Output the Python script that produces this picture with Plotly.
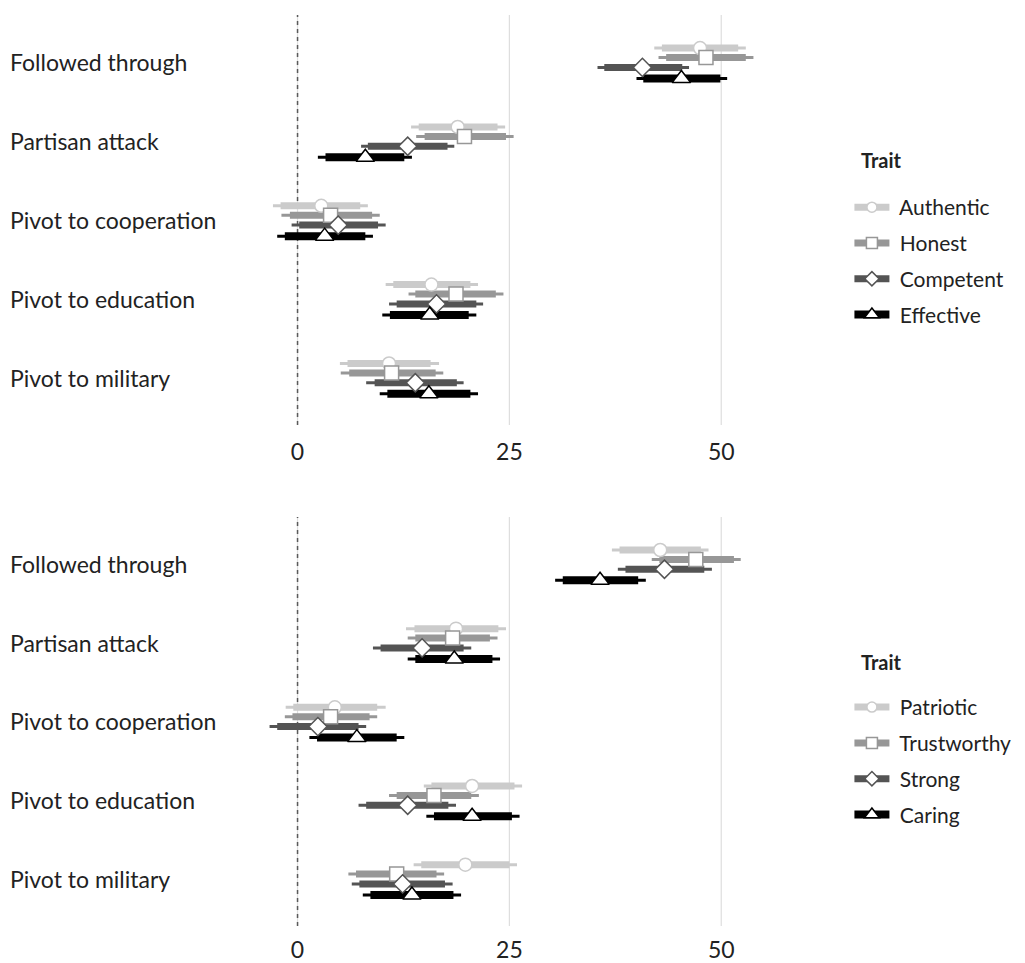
import plotly.graph_objects as go

# ---------------- data ----------------
categories = ["Followed through", "Partisan attack", "Pivot to cooperation",
              "Pivot to education", "Pivot to military"]

top_traits = ["Authentic", "Honest", "Competent", "Effective"]
bottom_traits = ["Patriotic", "Trustworthy", "Strong", "Caring"]

# point estimates per trait (order of categories)
authentic_est = [47.5, 18.9, 2.8, 15.8, 10.8]
honest_est = [48.2, 19.7, 3.9, 18.7, 11.1]
competent_est = [40.7, 13.0, 4.8, 16.4, 13.9]
effective_est = [45.3, 8.0, 3.2, 15.6, 15.5]

patriotic_est = [42.8, 18.7, 4.4, 20.6, 19.8]
trustworthy_est = [47.0, 18.3, 3.9, 16.1, 11.7]
strong_est = [43.3, 14.7, 2.4, 13.0, 12.4]
caring_est = [35.7, 18.5, 7.0, 20.6, 13.5]

# 90% interval (thick) lower / upper
authentic_lo90 = [43.0, 14.3, -2.0, 11.3, 5.9]
authentic_hi90 = [52.0, 23.6, 7.4, 20.4, 15.7]
honest_lo90 = [43.5, 15.0, -0.9, 13.9, 6.1]
honest_hi90 = [52.9, 24.6, 8.8, 23.4, 16.3]
competent_lo90 = [36.2, 8.3, 0.2, 11.7, 9.1]
competent_hi90 = [45.4, 17.7, 9.5, 21.1, 18.8]
effective_lo90 = [40.8, 3.3, -1.5, 10.9, 10.6]
effective_hi90 = [49.9, 12.6, 8.0, 20.2, 20.4]

patriotic_lo90 = [38.0, 13.8, -0.5, 15.8, 14.6]
patriotic_hi90 = [47.6, 23.7, 9.4, 25.6, 25.0]
trustworthy_lo90 = [42.7, 13.9, -0.6, 11.7, 6.9]
trustworthy_hi90 = [51.5, 22.7, 8.5, 20.5, 16.4]
strong_lo90 = [38.7, 9.8, -2.4, 8.1, 7.3]
strong_hi90 = [48.0, 19.6, 7.2, 17.8, 17.4]
caring_lo90 = [31.3, 13.9, 2.3, 16.1, 8.6]
caring_hi90 = [40.2, 23.0, 11.7, 25.3, 18.4]

# 95% interval (thin) lower / upper
authentic_lo95 = [42.1, 13.4, -2.9, 10.4, 5.0]
authentic_hi95 = [52.9, 24.5, 8.3, 21.3, 16.7]
honest_lo95 = [42.6, 14.0, -1.9, 13.1, 5.1]
honest_hi95 = [53.8, 25.5, 9.7, 24.3, 17.2]
competent_lo95 = [35.4, 7.5, -0.7, 10.8, 8.1]
competent_hi95 = [46.2, 18.5, 10.4, 21.9, 19.6]
effective_lo95 = [40.0, 2.4, -2.4, 10.0, 9.7]
effective_hi95 = [50.7, 13.5, 8.9, 21.1, 21.3]

patriotic_lo95 = [37.1, 12.8, -1.4, 14.9, 13.7]
patriotic_hi95 = [48.5, 24.6, 10.4, 26.5, 25.9]
trustworthy_lo95 = [41.8, 13.0, -1.5, 10.8, 6.0]
trustworthy_hi95 = [52.3, 23.6, 9.4, 21.4, 17.3]
strong_lo95 = [37.8, 8.9, -3.3, 7.2, 6.4]
strong_hi95 = [48.9, 20.5, 8.1, 18.7, 18.3]
caring_lo95 = [30.4, 13.0, 1.4, 15.2, 7.7]
caring_hi95 = [41.1, 23.9, 12.6, 26.2, 19.3]

x_ticks = [0, 25, 50]

# ---------------- styles ----------------
COLORS = ["#cbcbcb", "#979797", "#545454", "#000000"]
SYMBOLS = ["circle", "square", "diamond", "triangle-up"]
SIZES = [13, 14, 14, 16]
THICK_W = [7, 7, 7, 8]
THIN_W = 3
DODGE = [-0.18, -0.06, 0.065, 0.205]
FONT = "Lato"
TEXT = "#222222"
NB = "\u00a0"  # small gap between legend key and label

top = dict(
    traits=top_traits,
    est=[authentic_est, honest_est, competent_est, effective_est],
    lo90=[authentic_lo90, honest_lo90, competent_lo90, effective_lo90],
    hi90=[authentic_hi90, honest_hi90, competent_hi90, effective_hi90],
    lo95=[authentic_lo95, honest_lo95, competent_lo95, effective_lo95],
    hi95=[authentic_hi95, honest_hi95, competent_hi95, effective_hi95],
)
bottom = dict(
    traits=bottom_traits,
    est=[patriotic_est, trustworthy_est, strong_est, caring_est],
    lo90=[patriotic_lo90, trustworthy_lo90, strong_lo90, caring_lo90],
    hi90=[patriotic_hi90, trustworthy_hi90, strong_hi90, caring_hi90],
    lo95=[patriotic_lo95, trustworthy_lo95, strong_lo95, caring_lo95],
    hi95=[patriotic_hi95, trustworthy_hi95, strong_hi95, caring_hi95],
)

fig = go.Figure()


def segs(lo, hi, ypos):
    xs, ys = [], []
    for a, b, y in zip(lo, hi, ypos):
        xs += [a, b, None]
        ys += [y, y, None]
    return xs, ys


def add_panel(panel, xa, ya, legend_name, title_y):
    n = len(categories)
    for k in range(4):  # thin 95% lines
        ypos = [i + 1 + DODGE[k] for i in range(n)]
        xs, ys = segs(panel["lo95"][k], panel["hi95"][k], ypos)
        fig.add_trace(go.Scatter(x=xs, y=ys, mode="lines", xaxis=xa, yaxis=ya,
                                 line=dict(color=COLORS[k], width=THIN_W),
                                 showlegend=False, hoverinfo="skip"))
    for k in range(4):  # thick 90% lines
        ypos = [i + 1 + DODGE[k] for i in range(n)]
        xs, ys = segs(panel["lo90"][k], panel["hi90"][k], ypos)
        fig.add_trace(go.Scatter(x=xs, y=ys, mode="lines", xaxis=xa, yaxis=ya,
                                 line=dict(color=COLORS[k], width=THICK_W[k]),
                                 showlegend=False, hoverinfo="skip"))
    for k in range(4):  # points
        ypos = [i + 1 + DODGE[k] for i in range(n)]
        fig.add_trace(go.Scatter(x=panel["est"][k], y=ypos, mode="markers",
                                 xaxis=xa, yaxis=ya,
                                 marker=dict(symbol=SYMBOLS[k], size=SIZES[k], color="white",
                                             line=dict(color=COLORS[k], width=1.5)),
                                 showlegend=False))
    for k in range(4):  # legend entries
        fig.add_trace(go.Scatter(x=[None], y=[None], mode="lines+markers",
                                 xaxis=xa, yaxis=ya, name=NB + panel["traits"][k],
                                 legend=legend_name, legendgroup=legend_name + str(k),
                                 line=dict(color=COLORS[k], width=THICK_W[k]),
                                 marker=dict(symbol=SYMBOLS[k], size=SIZES[k] - 3, color="white",
                                             line=dict(color=COLORS[k], width=1.5))))
    # legend title
    fig.add_annotation(text="<b>Trait</b>", xref="paper", yref="paper", x=1.1526, y=title_y,
                       xanchor="left", yanchor="middle", showarrow=False,
                       font=dict(family=FONT, size=20, color=TEXT))
    # gridlines + dashed zero reference line
    for t in x_ticks:
        fig.add_shape(type="line", xref=xa, yref=ya + " domain", x0=t, x1=t, y0=0, y1=1,
                      line=dict(color="#dedede", width=1.2), layer="below")
        if t == 0:
            fig.add_shape(type="line", xref=xa, yref=ya + " domain", x0=t, x1=t, y0=0, y1=1,
                          line=dict(color="#5a5a5a", width=1.5, dash="4px,4px"), layer="below")
    # category labels (left aligned)
    for i, c in enumerate(categories):
        fig.add_annotation(text=c, xref="paper", yref=ya, x=-0.4447, y=i + 1,
                           xanchor="left", yanchor="middle", showarrow=False,
                           font=dict(family=FONT, size=23, color=TEXT))


add_panel(top, "x", "y", "legend", 0.8408)
add_panel(bottom, "x2", "y2", "legend2", 0.2898)

xaxis_common = dict(range=[-6.2, 56.7], tickvals=x_ticks, ticktext=[str(t) for t in x_ticks],
                    showgrid=False, zeroline=False, showline=False, automargin=False,
                    ticks="outside", tickcolor="rgba(0,0,0,0)",
                    tickfont=dict(family=FONT, size=23, color=TEXT))
yaxis_common = dict(range=[5.6, 0.4], showgrid=False, zeroline=False, showline=False,
                    showticklabels=False, ticks="", automargin=False)

legend_common = dict(font=dict(family=FONT, size=21, color=TEXT),
                     xanchor="left", yanchor="top", tracegroupgap=5.5,
                     bgcolor="rgba(0,0,0,0)", itemwidth=35)

fig.update_layout(
    width=1017, height=955,
    margin=dict(l=237, r=247, t=7, b=37, autoexpand=False),
    plot_bgcolor="white", paper_bgcolor="white",
    xaxis=dict(domain=[0, 1], anchor="y", ticklen=6, **xaxis_common),
    yaxis=dict(domain=[0.550, 1.0], anchor="x", **yaxis_common),
    xaxis2=dict(domain=[0, 1], anchor="y2", ticklen=3, **xaxis_common),
    yaxis2=dict(domain=[0.0, 0.449], anchor="x2", **yaxis_common),
    legend=dict(x=1.134, y=0.8112, **legend_common),
    legend2=dict(x=1.134, y=0.2624, **legend_common),
    font=dict(family=FONT, color=TEXT),
)

fig.write_html("out.html")
